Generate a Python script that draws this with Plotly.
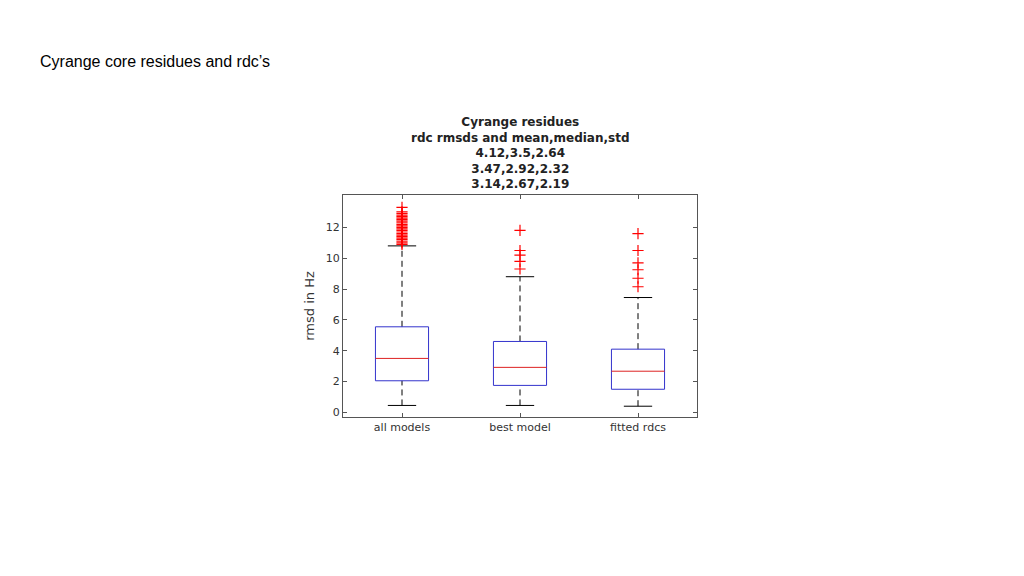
import plotly.graph_objects as go

categories = ["all models", "best model", "fitted rdcs"]
lower_whisker = [0.45, 0.45, 0.40]
q1 = [2.05, 1.75, 1.50]
median = [3.50, 2.92, 2.67]
q3 = [5.55, 4.60, 4.10]
upper_whisker = [10.80, 8.80, 7.45]
outliers = [
    [10.9, 11.0, 11.1, 11.2, 11.3, 11.4, 11.5, 11.6, 11.7, 11.8, 11.9, 12.0, 12.1, 12.2,
     12.3, 12.4, 12.5, 12.6, 12.7, 12.8, 12.9, 13.0, 13.3],
    [9.3, 9.8, 10.2, 10.5, 11.8],
    [8.15, 8.7, 9.25, 9.7, 10.5, 11.6],
]
yticks = [0, 2, 4, 6, 8, 10, 12]

bw = 0.225
cw = 0.12
fig = go.Figure()
for i, c in enumerate(categories):
    x = i + 1
    for a, b in [(lower_whisker[i], q1[i]), (q3[i], upper_whisker[i])]:
        fig.add_trace(go.Scatter(x=[x, x], y=[a, b], mode="lines",
                                 line=dict(color="black", width=1, dash="6px,4px"), hoverinfo="skip"))
    for v in [lower_whisker[i], upper_whisker[i]]:
        fig.add_trace(go.Scatter(x=[x - cw, x + cw], y=[v, v], mode="lines",
                                 line=dict(color="black", width=1), hoverinfo="skip"))
    fig.add_trace(go.Scatter(x=[x - bw, x + bw, x + bw, x - bw, x - bw],
                             y=[q1[i], q1[i], q3[i], q3[i], q1[i]], mode="lines",
                             line=dict(color="#3333cc", width=1), hoverinfo="skip"))
    fig.add_trace(go.Scatter(x=[x - bw, x + bw], y=[median[i], median[i]], mode="lines",
                             line=dict(color="#dd2222", width=1), hoverinfo="skip"))
    fig.add_trace(go.Scatter(x=[x] * len(outliers[i]), y=outliers[i], mode="markers",
                             marker=dict(symbol="cross-thin", size=8, color="red",
                                         line=dict(color="red", width=1.2))))

L, T, R, B = 335, 187, 335, 167
pw, ph = 1024 - L - R, 576 - T - B
fig.update_layout(
    width=1024, height=576, showlegend=False,
    paper_bgcolor="white", plot_bgcolor="white",
    margin=dict(l=L, r=R, t=T, b=B),
    font=dict(family="DejaVu Sans", size=11, color="#333"),
    xaxis=dict(range=[0.5, 3.5], tickvals=[1, 2, 3], ticktext=categories,
               showgrid=False, zeroline=False, showline=True, linecolor="#555", mirror="ticks",
               ticks="inside", ticklen=4, tickcolor="#555"),
    yaxis=dict(range=[-0.3, 14.1], tickvals=yticks, showgrid=False, zeroline=False,
               showline=True, linecolor="#555", mirror="ticks", ticks="inside", ticklen=4,
               tickcolor="#555", title=dict(text="rmsd in Hz", standoff=8)),
    annotations=[
        dict(text="Cyrange core residues and rdc’s", x=(30 - L) / pw, y=(576 - B - 54) / ph,
             xref="paper", yref="paper",
             showarrow=False, xanchor="left", yanchor="middle",
             font=dict(family="Liberation Sans, Arial", size=16, color="black")),
        dict(text="<b>Cyrange residues<br>rdc rmsds and mean,median,std<br>4.12,3.5,2.64<br>3.47,2.92,2.32<br>3.14,2.67,2.19</b>",
             x=0.5, y=1.0, xref="paper", yref="paper", yshift=2, showarrow=False,
             xanchor="center", yanchor="bottom", font=dict(size=12, color="#222")),
    ],
)
fig.write_html("out.html")
